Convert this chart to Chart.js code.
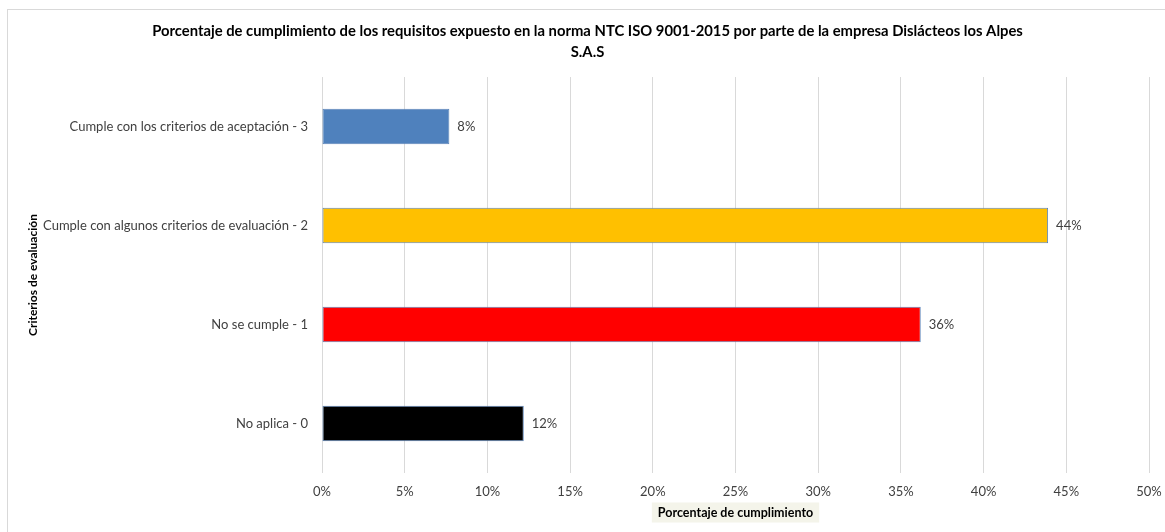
<!DOCTYPE html>
<html>
<head>
<meta charset="utf-8">
<script src="https://cdn.jsdelivr.net/npm/chart.js@4.4.0/dist/chart.umd.min.js"></script>
<style>
  body { margin: 0; background: #fff; }
  #frame { position: absolute; left: 7px; top: 9px; width: 1200px; height: 600px; border-left: 1px solid #d9d9d9; border-top: 1px solid #d9d9d9; }
  #wrap { position: absolute; left: 0; top: 0; width: 1165px; height: 532px; }
</style>
</head>
<body>
<div id="frame"></div>
<div id="wrap"><canvas id="chart" width="1165" height="532"></canvas></div>
<script>
const chartTitle = ['Porcentaje de cumplimiento de los requisitos expuesto en la norma NTC ISO 9001-2015 por parte de la empresa Dislácteos los Alpes', 'S.A.S'];
const categories = [
    'Cumple con los criterios de aceptación - 3',
    'Cumple con algunos criterios de evaluación - 2',
    'No se cumple - 1',
    'No aplica - 0'
];
const percentages = [7.7, 43.9, 36.2, 12.2];
const barColors = ['#4f81bd', '#ffc000', '#ff0000', '#000000'];
const xTicks = [0, 5, 10, 15, 20, 25, 30, 35, 40, 45, 50];

const FONT = 'Lato, "Noto Sans", sans-serif';

// labels at the end of each bar
const valueLabels = {
    id: 'valueLabels',
    afterDatasetsDraw(chart) {
        const ctx = chart.ctx;
        const meta = chart.getDatasetMeta(0);
        ctx.save();
        ctx.font = '13px ' + FONT;
        ctx.fillStyle = '#404040';
        ctx.textAlign = 'left';
        ctx.textBaseline = 'middle';
        meta.data.forEach((bar, i) => {
            ctx.fillText(Math.round(percentages[i]) + '%', bar.x + 8, bar.y);
        });
        ctx.restore();
    }
};

// beige box behind the x axis title
const axisTitleBox = {
    id: 'axisTitleBox',
    beforeDraw(chart) {
        const ctx = chart.ctx;
        const sx = chart.scales.x;
        const area = chart.chartArea;
        ctx.save();
        ctx.font = 'bold 12.5px ' + FONT;
        const w = ctx.measureText(sx.options.title.text).width + 12;
        const cx = (area.left + area.right) / 2;
        const cy = sx.bottom - 4 - 7.5;
        ctx.fillStyle = '#f4f4ea';
        ctx.fillRect(cx - w / 2, cy - 10, w, 20);
        ctx.restore();
    }
};

new Chart(document.getElementById('chart'), {
    type: 'bar',
    data: {
        labels: categories,
        datasets: [{
            data: percentages,
            backgroundColor: barColors,
            borderColor: '#5b84b9',
            borderWidth: 1,
            borderSkipped: false,
            categoryPercentage: 1,
            barPercentage: 0.36
        }]
    },
    options: {
        indexAxis: 'y',
        responsive: false,
        animation: false,
        layout: { padding: { top: 0, left: 26, right: 16, bottom: 8 } },
        plugins: {
            legend: { display: false },
            tooltip: { enabled: false },
            title: {
                display: true,
                text: chartTitle,
                color: '#000',
                font: { family: FONT, size: 14.8, weight: 'bold', lineHeight: 1.42 },
                padding: { top: 20.5, bottom: 14.5 }
            }
        },
        scales: {
            x: {
                min: 0,
                max: 50,
                afterBuildTicks(scale) {
                    scale.ticks = xTicks.map(v => ({ value: v }));
                },
                afterFit(scale) {
                    scale.height = 51;
                    scale.paddingLeft = 0;
                    scale.paddingRight = 0;
                },
                ticks: {
                    callback: v => v + '%',
                    color: '#404040',
                    font: { family: FONT, size: 13 },
                    padding: 11,
                    maxRotation: 0
                },
                grid: { color: '#d9d9d9', drawTicks: false },
                border: { display: false },
                title: {
                    display: true,
                    text: 'Porcentaje de cumplimiento',
                    color: '#000',
                    font: { family: FONT, size: 12.5, weight: 'bold' },
                    padding: { top: 7, bottom: 4 }
                }
            },
            y: {
                afterFit(scale) {
                    scale.width = 322 - 26;
                },
                ticks: {
                    color: '#404040',
                    font: { family: FONT, size: 13 },
                    padding: 14
                },
                grid: { display: false, drawTicks: false },
                border: { display: false },
                title: {
                    display: true,
                    text: 'Criterios de evaluación',
                    color: '#000',
                    font: { family: FONT, size: 12, weight: 'bold' },
                    padding: { top: 0, bottom: 0 }
                }
            }
        }
    },
    plugins: [valueLabels, axisTitleBox]
});
</script>
</body>
</html>
